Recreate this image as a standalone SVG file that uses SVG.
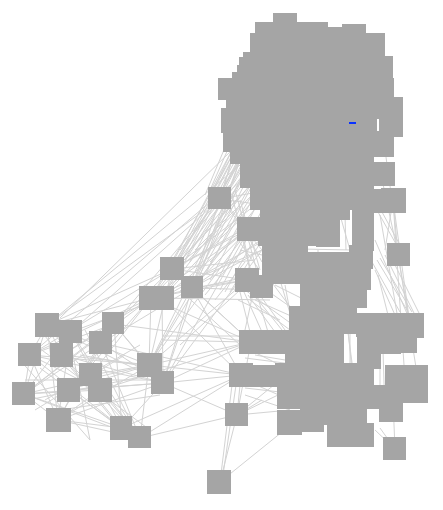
<svg xmlns="http://www.w3.org/2000/svg" width="443" height="510" viewBox="0 0 443 510">
<style>
.e line{stroke:#d3d3d3;stroke-width:1;fill:none}
.n{fill:#a5a5a5}
.b{fill:#0a32ff}
</style>
<rect width="443" height="510" fill="#ffffff"/>
<g id="edges" class="e">
<line x1="47" y1="325" x2="24" y2="394"/><line x1="47" y1="325" x2="58" y2="420"/><line x1="47" y1="325" x2="163" y2="383"/><line x1="47" y1="325" x2="149" y2="365"/><line x1="47" y1="325" x2="100" y2="390"/>
<line x1="71" y1="332" x2="24" y2="394"/><line x1="71" y1="332" x2="58" y2="420"/><line x1="71" y1="332" x2="122" y2="428"/><line x1="71" y1="332" x2="140" y2="438"/>
<line x1="62" y1="355" x2="163" y2="383"/><line x1="62" y1="355" x2="149" y2="365"/><line x1="62" y1="355" x2="140" y2="438"/>
<line x1="30" y1="355" x2="163" y2="383"/><line x1="30" y1="355" x2="149" y2="365"/><line x1="30" y1="355" x2="100" y2="390"/><line x1="30" y1="355" x2="122" y2="428"/><line x1="30" y1="355" x2="151" y2="298"/>
<line x1="24" y1="394" x2="149" y2="365"/><line x1="24" y1="394" x2="163" y2="383"/><line x1="24" y1="394" x2="114" y2="324"/><line x1="24" y1="394" x2="100" y2="390"/><line x1="24" y1="394" x2="122" y2="428"/><line x1="24" y1="394" x2="140" y2="438"/>
<line x1="58" y1="420" x2="149" y2="365"/><line x1="58" y1="420" x2="163" y2="383"/><line x1="58" y1="420" x2="114" y2="324"/><line x1="58" y1="420" x2="101" y2="343"/><line x1="58" y1="420" x2="140" y2="438"/>
<line x1="69" y1="390" x2="114" y2="324"/><line x1="69" y1="390" x2="151" y2="298"/><line x1="69" y1="390" x2="122" y2="428"/>
<line x1="91" y1="375" x2="140" y2="438"/><line x1="91" y1="375" x2="151" y2="298"/><line x1="100" y1="390" x2="140" y2="438"/><line x1="101" y1="343" x2="140" y2="438"/><line x1="101" y1="343" x2="163" y2="383"/>
<line x1="114" y1="324" x2="163" y2="383"/><line x1="114" y1="324" x2="122" y2="428"/><line x1="149" y1="365" x2="140" y2="438"/><line x1="122" y1="428" x2="163" y2="383"/>
<line x1="47" y1="325" x2="151" y2="298"/><line x1="71" y1="332" x2="162" y2="298"/><line x1="62" y1="355" x2="151" y2="298"/><line x1="47" y1="325" x2="172" y2="269"/><line x1="30" y1="355" x2="172" y2="269"/><line x1="24" y1="394" x2="151" y2="298"/>
<line x1="62" y1="355" x2="114" y2="324"/><line x1="30" y1="355" x2="114" y2="324"/><line x1="24" y1="394" x2="101" y2="343"/><line x1="58" y1="420" x2="100" y2="390"/><line x1="69" y1="390" x2="149" y2="365"/><line x1="91" y1="375" x2="149" y2="365"/><line x1="69" y1="390" x2="163" y2="383"/>
<line x1="30" y1="355" x2="58" y2="420"/><line x1="47" y1="325" x2="30" y2="355"/><line x1="24" y1="394" x2="58" y2="420"/><line x1="30" y1="355" x2="24" y2="394"/><line x1="47" y1="325" x2="62" y2="355"/><line x1="58" y1="420" x2="122" y2="428"/><line x1="62" y1="355" x2="122" y2="428"/>
<line x1="114" y1="324" x2="149" y2="365"/><line x1="151" y1="298" x2="149" y2="365"/><line x1="162" y1="298" x2="163" y2="383"/><line x1="172" y1="269" x2="149" y2="365"/><line x1="172" y1="269" x2="114" y2="324"/><line x1="192" y1="288" x2="163" y2="383"/><line x1="192" y1="288" x2="149" y2="365"/><line x1="192" y1="288" x2="101" y2="343"/>
<line x1="40" y1="330" x2="130" y2="440"/><line x1="35" y1="345" x2="150" y2="430"/><line x1="25" y1="380" x2="160" y2="380"/><line x1="28" y1="400" x2="150" y2="375"/><line x1="60" y1="410" x2="160" y2="395"/><line x1="70" y1="340" x2="90" y2="440"/><line x1="85" y1="330" x2="130" y2="420"/><line x1="40" y1="368" x2="110" y2="420"/><line x1="20" y1="360" x2="90" y2="440"/><line x1="45" y1="400" x2="140" y2="345"/><line x1="80" y1="355" x2="165" y2="370"/><line x1="35" y1="410" x2="125" y2="355"/>
<line x1="47" y1="325" x2="220" y2="199"/><line x1="71" y1="332" x2="220" y2="199"/><line x1="47" y1="325" x2="240" y2="165"/><line x1="114" y1="324" x2="220" y2="199"/><line x1="30" y1="355" x2="236" y2="180"/><line x1="60" y1="318" x2="232" y2="150"/>
<line x1="149" y1="365" x2="251" y2="342"/><line x1="163" y1="383" x2="241" y2="375"/><line x1="163" y1="383" x2="237" y2="415"/><line x1="122" y1="428" x2="241" y2="375"/><line x1="140" y1="438" x2="237" y2="415"/><line x1="114" y1="324" x2="251" y2="342"/><line x1="101" y1="343" x2="241" y2="375"/><line x1="151" y1="298" x2="251" y2="342"/><line x1="162" y1="298" x2="241" y2="375"/>
<line x1="192" y1="288" x2="251" y2="342"/><line x1="192" y1="288" x2="247" y2="280"/><line x1="172" y1="269" x2="247" y2="280"/><line x1="172" y1="269" x2="251" y2="342"/><line x1="163" y1="383" x2="251" y2="342"/><line x1="149" y1="365" x2="247" y2="280"/><line x1="100" y1="390" x2="251" y2="342"/><line x1="151" y1="298" x2="247" y2="280"/><line x1="192" y1="288" x2="241" y2="375"/><line x1="140" y1="438" x2="241" y2="375"/><line x1="149" y1="365" x2="241" y2="375"/>
<line x1="162" y1="298" x2="249" y2="229"/><line x1="172" y1="269" x2="249" y2="229"/><line x1="192" y1="288" x2="249" y2="229"/><line x1="163" y1="336" x2="245" y2="336"/><line x1="163" y1="340" x2="245" y2="342"/><line x1="180" y1="290" x2="240" y2="345"/><line x1="180" y1="345" x2="240" y2="290"/>
<line x1="172" y1="269" x2="235" y2="150"/><line x1="172" y1="269" x2="240" y2="160"/><line x1="172" y1="269" x2="245" y2="172"/><line x1="172" y1="269" x2="250" y2="186"/><line x1="172" y1="269" x2="262" y2="200"/><line x1="172" y1="269" x2="270" y2="215"/>
<line x1="192" y1="288" x2="235" y2="150"/><line x1="192" y1="288" x2="240" y2="160"/><line x1="192" y1="288" x2="245" y2="172"/><line x1="192" y1="288" x2="250" y2="186"/><line x1="192" y1="288" x2="262" y2="200"/><line x1="192" y1="288" x2="262" y2="250"/><line x1="192" y1="288" x2="275" y2="230"/>
<line x1="151" y1="298" x2="235" y2="150"/><line x1="151" y1="298" x2="240" y2="162"/><line x1="151" y1="298" x2="248" y2="178"/><line x1="151" y1="298" x2="255" y2="192"/><line x1="151" y1="298" x2="249" y2="229"/><line x1="151" y1="298" x2="262" y2="250"/>
<line x1="162" y1="298" x2="238" y2="155"/><line x1="162" y1="298" x2="243" y2="168"/><line x1="162" y1="298" x2="252" y2="182"/><line x1="162" y1="298" x2="258" y2="196"/><line x1="162" y1="298" x2="265" y2="240"/>
<line x1="220" y1="199" x2="235" y2="150"/><line x1="220" y1="199" x2="240" y2="160"/><line x1="220" y1="199" x2="248" y2="175"/><line x1="220" y1="199" x2="258" y2="192"/><line x1="220" y1="199" x2="249" y2="229"/><line x1="220" y1="199" x2="262" y2="250"/><line x1="220" y1="199" x2="300" y2="210"/>
<line x1="210" y1="190" x2="232" y2="140"/><line x1="214" y1="188" x2="236" y2="142"/><line x1="218" y1="188" x2="240" y2="145"/><line x1="224" y1="188" x2="244" y2="150"/><line x1="205" y1="195" x2="226" y2="145"/><line x1="228" y1="190" x2="246" y2="160"/><line x1="231" y1="195" x2="250" y2="170"/>
<line x1="175" y1="258" x2="232" y2="150"/><line x1="180" y1="258" x2="236" y2="152"/><line x1="185" y1="260" x2="240" y2="156"/><line x1="190" y1="262" x2="244" y2="160"/><line x1="195" y1="266" x2="248" y2="165"/><line x1="200" y1="270" x2="252" y2="170"/><line x1="205" y1="275" x2="256" y2="178"/><line x1="210" y1="280" x2="258" y2="188"/><line x1="215" y1="285" x2="262" y2="195"/><line x1="220" y1="290" x2="262" y2="210"/><line x1="225" y1="292" x2="262" y2="225"/><line x1="230" y1="292" x2="262" y2="240"/>
<line x1="180" y1="250" x2="230" y2="190"/><line x1="185" y1="255" x2="236" y2="200"/><line x1="195" y1="250" x2="240" y2="205"/><line x1="200" y1="258" x2="245" y2="215"/><line x1="210" y1="262" x2="242" y2="232"/><line x1="205" y1="295" x2="242" y2="250"/><line x1="215" y1="300" x2="245" y2="262"/>
<line x1="163" y1="383" x2="240" y2="160"/><line x1="149" y1="365" x2="245" y2="170"/><line x1="163" y1="383" x2="249" y2="229"/><line x1="149" y1="365" x2="255" y2="190"/><line x1="163" y1="383" x2="262" y2="250"/><line x1="149" y1="365" x2="249" y2="229"/>
<line x1="172" y1="269" x2="255" y2="260"/><line x1="192" y1="288" x2="265" y2="290"/><line x1="151" y1="298" x2="255" y2="275"/><line x1="162" y1="298" x2="270" y2="300"/>
<line x1="240" y1="200" x2="260" y2="270"/><line x1="232" y1="195" x2="250" y2="270"/><line x1="235" y1="190" x2="262" y2="290"/><line x1="238" y1="240" x2="258" y2="268"/><line x1="244" y1="240" x2="250" y2="268"/><line x1="250" y1="240" x2="262" y2="262"/><line x1="240" y1="250" x2="262" y2="255"/>
<line x1="245" y1="290" x2="300" y2="330"/><line x1="262" y1="287" x2="312" y2="322"/><line x1="250" y1="290" x2="290" y2="340"/><line x1="270" y1="280" x2="300" y2="320"/><line x1="280" y1="280" x2="295" y2="330"/><line x1="275" y1="285" x2="305" y2="300"/><line x1="285" y1="285" x2="290" y2="312"/>
<line x1="240" y1="292" x2="250" y2="332"/><line x1="244" y1="292" x2="262" y2="332"/><line x1="248" y1="295" x2="275" y2="332"/><line x1="258" y1="298" x2="268" y2="332"/><line x1="262" y1="298" x2="285" y2="330"/><line x1="238" y1="300" x2="280" y2="320"/><line x1="252" y1="298" x2="245" y2="330"/>
<line x1="350" y1="300" x2="350" y2="380"/><line x1="345" y1="310" x2="355" y2="385"/><line x1="348" y1="330" x2="352" y2="370"/><line x1="380" y1="350" x2="380" y2="420"/><line x1="383" y1="350" x2="385" y2="415"/><line x1="245" y1="358" x2="300" y2="365"/><line x1="250" y1="350" x2="290" y2="370"/><line x1="255" y1="355" x2="285" y2="360"/><line x1="340" y1="215" x2="350" y2="250"/><line x1="345" y1="215" x2="346" y2="250"/><line x1="300" y1="249" x2="352" y2="250"/><line x1="318" y1="250" x2="318" y2="280"/>
<line x1="250" y1="300" x2="290" y2="330"/><line x1="255" y1="300" x2="300" y2="320"/><line x1="245" y1="395" x2="290" y2="410"/><line x1="245" y1="380" x2="290" y2="400"/><line x1="245" y1="388" x2="280" y2="392"/>
<line x1="393" y1="200" x2="398" y2="254"/><line x1="393" y1="200" x2="410" y2="325"/><line x1="398" y1="254" x2="410" y2="325"/><line x1="398" y1="254" x2="418" y2="380"/><line x1="393" y1="200" x2="405" y2="380"/><line x1="380" y1="170" x2="398" y2="254"/><line x1="385" y1="150" x2="392" y2="200"/><line x1="380" y1="215" x2="399" y2="325"/><line x1="375" y1="240" x2="412" y2="325"/><line x1="378" y1="212" x2="396" y2="244"/><line x1="382" y1="212" x2="400" y2="245"/><line x1="377" y1="260" x2="407" y2="310"/><line x1="372" y1="262" x2="400" y2="312"/><line x1="380" y1="258" x2="412" y2="312"/><line x1="385" y1="255" x2="415" y2="315"/><line x1="393" y1="200" x2="385" y2="250"/><line x1="375" y1="270" x2="395" y2="315"/><line x1="378" y1="275" x2="388" y2="315"/><line x1="395" y1="265" x2="420" y2="315"/>
<line x1="220" y1="482" x2="237" y2="415"/><line x1="220" y1="482" x2="232" y2="385"/><line x1="222" y1="482" x2="236" y2="385"/><line x1="220" y1="482" x2="282" y2="432"/>
<line x1="237" y1="415" x2="262" y2="400"/><line x1="237" y1="415" x2="290" y2="410"/><line x1="237" y1="415" x2="251" y2="342"/><line x1="237" y1="415" x2="241" y2="375"/><line x1="237" y1="415" x2="280" y2="380"/><line x1="237" y1="415" x2="278" y2="395"/>
<line x1="395" y1="449" x2="393" y2="400"/><line x1="395" y1="449" x2="375" y2="430"/><line x1="395" y1="449" x2="380" y2="428"/>
</g>
<g id="n1"><rect class="n" x="35" y="313" width="24" height="24"/></g>
<g id="n2"><rect class="n" x="59" y="320" width="23" height="23"/></g>
<g id="n3"><rect class="n" x="50" y="343" width="23" height="24"/></g>
<g id="n4"><rect class="n" x="18" y="343" width="23" height="23"/></g>
<g id="n5"><rect class="n" x="12" y="382" width="23" height="23"/></g>
<g id="n6"><rect class="n" x="46" y="408" width="25" height="24"/></g>
<g id="n7"><rect class="n" x="57" y="378" width="23" height="24"/></g>
<g id="n8"><rect class="n" x="79" y="363" width="23" height="23"/></g>
<g id="n9"><rect class="n" x="88" y="378" width="24" height="24"/></g>
<g id="n10"><rect class="n" x="89" y="331" width="23" height="23"/></g>
<g id="n11"><rect class="n" x="102" y="312" width="22" height="22"/></g>
<g id="n12"><rect class="n" x="137" y="353" width="25" height="24"/></g>
<g id="n13"><rect class="n" x="151" y="371" width="23" height="23"/></g>
<g id="n14"><rect class="n" x="110" y="416" width="22" height="24"/></g>
<g id="n15"><rect class="n" x="128" y="426" width="23" height="22"/></g>
<g id="n16"><rect class="n" x="139" y="286" width="24" height="24"/></g>
<g id="n17"><rect class="n" x="151" y="286" width="23" height="24"/></g>
<g id="n18"><rect class="n" x="160" y="257" width="24" height="23"/></g>
<g id="n19"><rect class="n" x="181" y="276" width="22" height="22"/></g>
<g id="n20"><rect class="n" x="208" y="187" width="23" height="22"/></g>
<g id="n21"><rect class="n" x="381" y="188" width="25" height="25"/></g>
<g id="n22"><rect class="n" x="387" y="243" width="23" height="23"/></g>
<g id="n23"><rect class="n" x="225" y="403" width="23" height="23"/></g>
<g id="n24"><rect class="n" x="207" y="470" width="24" height="24"/></g>
<g id="n25"><rect class="n" x="383" y="437" width="23" height="23"/></g>
<g id="blob">
<rect class="n" x="273" y="13" width="24" height="24"/>
<rect class="n" x="255" y="22" width="24" height="24"/><rect class="n" x="280" y="22" width="24" height="24"/><rect class="n" x="304" y="22" width="24" height="24"/><rect class="n" x="320" y="27" width="24" height="24"/><rect class="n" x="342" y="24" width="24" height="24"/>
<rect class="n" x="250" y="33" width="24" height="24"/><rect class="n" x="272" y="33" width="24" height="24"/><rect class="n" x="294" y="33" width="24" height="24"/><rect class="n" x="316" y="33" width="24" height="24"/><rect class="n" x="338" y="33" width="24" height="24"/><rect class="n" x="361" y="33" width="24" height="25"/>
<rect class="n" x="243" y="52" width="24" height="24"/><rect class="n" x="265" y="52" width="24" height="24"/><rect class="n" x="287" y="52" width="24" height="24"/><rect class="n" x="309" y="52" width="24" height="24"/><rect class="n" x="331" y="52" width="24" height="24"/><rect class="n" x="353" y="52" width="24" height="24"/><rect class="n" x="369" y="56" width="24" height="24"/>
<rect class="n" x="239" y="57" width="24" height="24"/><rect class="n" x="237" y="65" width="24" height="24"/><rect class="n" x="232" y="72" width="24" height="24"/>
<rect class="n" x="218" y="78" width="24" height="22"/><rect class="n" x="240" y="74" width="24" height="24"/><rect class="n" x="262" y="74" width="24" height="24"/><rect class="n" x="284" y="74" width="24" height="24"/><rect class="n" x="306" y="74" width="24" height="24"/><rect class="n" x="328" y="74" width="24" height="24"/><rect class="n" x="350" y="74" width="24" height="24"/><rect class="n" x="370" y="78" width="24" height="24"/>
<rect class="n" x="226" y="95" width="24" height="24"/><rect class="n" x="248" y="95" width="24" height="24"/><rect class="n" x="270" y="95" width="24" height="24"/><rect class="n" x="292" y="95" width="24" height="24"/><rect class="n" x="314" y="95" width="24" height="24"/><rect class="n" x="336" y="95" width="24" height="24"/><rect class="n" x="358" y="95" width="24" height="24"/><rect class="n" x="379" y="97" width="24" height="24"/>
<rect class="n" x="221" y="108" width="24" height="25"/><rect class="n" x="243" y="113" width="24" height="24"/><rect class="n" x="265" y="113" width="24" height="24"/><rect class="n" x="287" y="113" width="24" height="24"/><rect class="n" x="309" y="113" width="24" height="24"/><rect class="n" x="331" y="113" width="24" height="24"/><rect class="n" x="353" y="113" width="24" height="24"/><rect class="n" x="379" y="114" width="24" height="23"/>
<rect class="n" x="223" y="128" width="24" height="24"/><rect class="n" x="245" y="131" width="24" height="24"/><rect class="n" x="267" y="131" width="24" height="24"/><rect class="n" x="289" y="131" width="24" height="24"/><rect class="n" x="311" y="131" width="24" height="24"/><rect class="n" x="333" y="131" width="24" height="24"/><rect class="n" x="355" y="131" width="24" height="24"/><rect class="n" x="370" y="133" width="24" height="24"/>
<rect class="n" x="230" y="140" width="24" height="24"/><rect class="n" x="240" y="150" width="24" height="24"/><rect class="n" x="262" y="150" width="24" height="24"/><rect class="n" x="284" y="150" width="24" height="24"/><rect class="n" x="306" y="150" width="24" height="24"/><rect class="n" x="328" y="150" width="24" height="24"/><rect class="n" x="350" y="150" width="24" height="24"/><rect class="n" x="371" y="162" width="24" height="24"/>
<rect class="n" x="240" y="165" width="24" height="23"/><rect class="n" x="262" y="168" width="24" height="24"/><rect class="n" x="284" y="168" width="24" height="24"/><rect class="n" x="306" y="168" width="24" height="24"/><rect class="n" x="328" y="168" width="24" height="24"/><rect class="n" x="350" y="168" width="24" height="24"/>
</g>
<g id="column">
<rect class="n" x="250" y="186" width="24" height="24"/><rect class="n" x="272" y="186" width="24" height="24"/><rect class="n" x="294" y="186" width="24" height="24"/><rect class="n" x="316" y="186" width="24" height="24"/><rect class="n" x="338" y="186" width="24" height="24"/><rect class="n" x="357" y="189" width="24" height="24"/>
<rect class="n" x="260" y="204" width="24" height="24"/><rect class="n" x="282" y="204" width="24" height="24"/><rect class="n" x="304" y="204" width="24" height="24"/><rect class="n" x="326" y="200" width="24" height="20"/><rect class="n" x="352" y="206" width="22" height="22"/>
<rect class="n" x="237" y="217" width="24" height="24"/><rect class="n" x="258" y="222" width="24" height="24"/><rect class="n" x="280" y="222" width="24" height="24"/><rect class="n" x="302" y="222" width="24" height="24"/><rect class="n" x="316" y="220" width="24" height="27"/><rect class="n" x="352" y="227" width="22" height="24"/>
<rect class="n" x="262" y="243" width="24" height="24"/><rect class="n" x="284" y="243" width="24" height="24"/><rect class="n" x="306" y="252" width="24" height="24"/><rect class="n" x="326" y="252" width="24" height="24"/><rect class="n" x="349" y="245" width="24" height="24"/>
<rect class="n" x="262" y="262" width="24" height="22"/><rect class="n" x="283" y="262" width="24" height="22"/><rect class="n" x="305" y="262" width="24" height="24"/><rect class="n" x="327" y="262" width="24" height="24"/><rect class="n" x="347" y="266" width="24" height="24"/>
<rect class="n" x="235" y="268" width="24" height="24"/><rect class="n" x="250" y="275" width="23" height="23"/>
<rect class="n" x="300" y="284" width="24" height="24"/><rect class="n" x="322" y="284" width="24" height="24"/><rect class="n" x="343" y="284" width="24" height="24"/>
<rect class="n" x="289" y="306" width="24" height="24"/><rect class="n" x="311" y="300" width="24" height="24"/><rect class="n" x="333" y="300" width="24" height="24"/><rect class="n" x="311" y="310" width="24" height="24"/><rect class="n" x="333" y="310" width="24" height="24"/><rect class="n" x="356" y="313" width="24" height="24"/><rect class="n" x="378" y="313" width="24" height="24"/><rect class="n" x="400" y="313" width="24" height="25"/>
<rect class="n" x="239" y="330" width="24" height="24"/><rect class="n" x="261" y="330" width="24" height="24"/><rect class="n" x="283" y="330" width="24" height="24"/><rect class="n" x="305" y="330" width="24" height="24"/><rect class="n" x="320" y="330" width="24" height="24"/><rect class="n" x="357" y="330" width="24" height="24"/><rect class="n" x="377" y="330" width="24" height="24"/><rect class="n" x="393" y="330" width="24" height="23"/>
<rect class="n" x="285" y="345" width="24" height="24"/><rect class="n" x="307" y="345" width="24" height="24"/><rect class="n" x="320" y="345" width="24" height="24"/><rect class="n" x="357" y="345" width="24" height="24"/>
<rect class="n" x="229" y="363" width="24" height="24"/><rect class="n" x="252" y="365" width="24" height="22"/><rect class="n" x="275" y="363" width="24" height="24"/><rect class="n" x="297" y="363" width="24" height="24"/><rect class="n" x="319" y="363" width="24" height="24"/><rect class="n" x="341" y="363" width="24" height="24"/><rect class="n" x="350" y="363" width="24" height="24"/>
<rect class="n" x="385" y="365" width="24" height="24"/><rect class="n" x="404" y="365" width="24" height="24"/><rect class="n" x="385" y="379" width="24" height="24"/><rect class="n" x="404" y="379" width="24" height="24"/>
<rect class="n" x="277" y="385" width="24" height="24"/><rect class="n" x="299" y="385" width="24" height="24"/><rect class="n" x="321" y="385" width="24" height="24"/><rect class="n" x="343" y="385" width="24" height="24"/><rect class="n" x="365" y="385" width="24" height="24"/><rect class="n" x="379" y="398" width="24" height="24"/>
<rect class="n" x="277" y="410" width="25" height="25"/><rect class="n" x="300" y="408" width="24" height="24"/><rect class="n" x="320" y="405" width="24" height="20"/><rect class="n" x="343" y="405" width="24" height="20"/><rect class="n" x="327" y="423" width="24" height="24"/><rect class="n" x="350" y="423" width="24" height="24"/>
</g>
<rect class="b" x="349" y="122" width="7" height="2"/>
</svg>
